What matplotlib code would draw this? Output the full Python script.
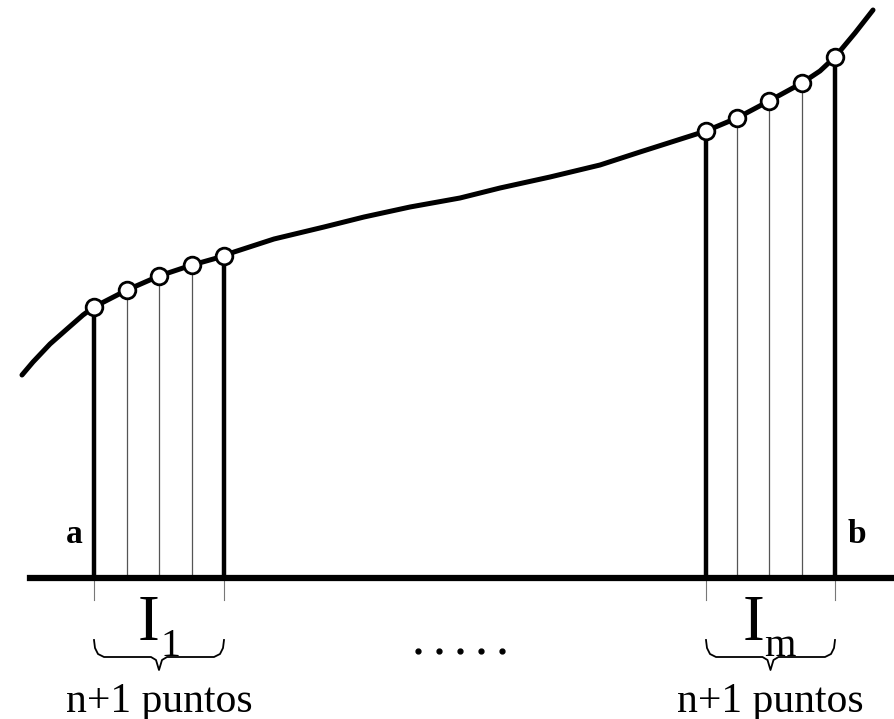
import matplotlib.pyplot as plt

# curve (pixel coords, y downwards)
curve_x = [22, 33, 50, 67, 83, 94, 127, 159, 192, 224, 234, 274, 324, 364, 410, 460, 500, 550, 600, 640, 706, 737, 769, 802, 820, 835, 855, 873]
curve_y = [375, 362, 344, 329, 315, 307, 290, 276, 265, 256, 252, 239, 227, 217, 207, 198, 188, 177, 165, 152, 131, 118, 101, 83, 71, 57, 33, 10]

# subinterval nodes: first and last block
node1_x = [94, 127, 159, 192, 224]
node1_y = [307, 290, 276, 265, 256]
node2_x = [706, 737, 769, 802, 835]
node2_y = [131, 118, 101, 83, 57]

base_y = 578
dots_x = [418, 439, 460, 481, 502]

fig = plt.figure(figsize=(8.95, 7.19), dpi=100)
ax = fig.add_axes([0, 0, 1, 1])
ax.set_xlim(0, 895)
ax.set_ylim(719, 0)
ax.axis('off')

serif = 'Liberation Serif'

ax.plot(curve_x, curve_y, color='black', lw=3.6, solid_capstyle='round',
        solid_joinstyle='round', zorder=3)
ax.plot([30, 895], [base_y, base_y], color='black', lw=4.5, zorder=3)

for xs, ys in [(node1_x, node1_y), (node2_x, node2_y)]:
    # thick outer lines, thin inner lines
    for i in range(len(xs)):
        if i == 0 or i == len(xs) - 1:
            ax.plot([xs[i], xs[i]], [ys[i], base_y], color='black', lw=3.2, zorder=2)
        else:
            ax.plot([xs[i], xs[i]], [ys[i], base_y], color='#555555', lw=0.9, zorder=2)
    ax.plot(xs, ys, 'o', ms=12, mfc='white', mec='black', mew=2, zorder=4)
    # small ticks under the axis
    for xx in (xs[0], xs[-1]):
        ax.plot([xx, xx], [base_y, 600], color='#777777', lw=0.8)
    # brace
    l, r = xs[0], xs[-1]
    m = (l + r) / 2
    bx = [l, l + 1, l + 4, l + 10, m - 8, m - 3, m, m + 3, m + 8, r - 10, r - 4, r - 1, r]
    by = [640, 648, 654, 657, 657, 660, 670, 660, 657, 657, 654, 648, 640]
    ax.plot(bx, by, color='black', lw=1.3)
    ax.text(m, 712, 'n+1 puntos', family=serif, fontsize=30, ha='center', va='baseline')

ax.text(149, 640, 'I', family=serif, fontsize=47, ha='center', va='baseline')
ax.text(171, 656, '1', family=serif, fontsize=29, ha='center', va='baseline')
ax.text(754, 640, 'I', family=serif, fontsize=47, ha='center', va='baseline')
ax.text(764, 656, 'm', family=serif, fontsize=29, ha='left', va='baseline')

ax.text(74, 543, 'a', family=serif, fontsize=24, fontweight='bold', ha='center', va='baseline')
ax.text(857, 543, 'b', family=serif, fontsize=24, fontweight='bold', ha='center', va='baseline')

ax.plot(dots_x, [651] * len(dots_x), 'o', color='black', ms=3.5)

fig.savefig('out.png', dpi=100)
